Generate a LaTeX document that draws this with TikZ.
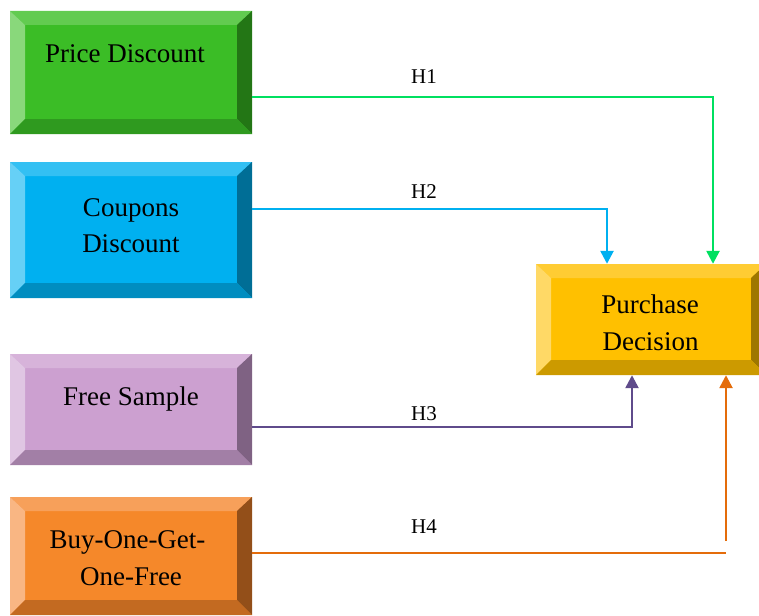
\documentclass[tikz,border=0pt]{standalone}
\usepackage{fontspec}
\setmainfont{Liberation Serif}
\usetikzlibrary{arrows.meta,calc}
\definecolor{gF}{HTML}{3BBD26}\definecolor{gT}{HTML}{62CB50}\definecolor{gL}{HTML}{89D87B}\definecolor{gR}{HTML}{237615}\definecolor{gB}{HTML}{2F9A1F}
\definecolor{bF}{HTML}{00B0F0}\definecolor{bT}{HTML}{33C0F3}\definecolor{bL}{HTML}{66D0F6}\definecolor{bR}{HTML}{006E96}\definecolor{bB}{HTML}{008DC0}
\definecolor{pF}{HTML}{CCA0D0}\definecolor{pT}{HTML}{D7B3DA}\definecolor{pL}{HTML}{E0C6E3}\definecolor{pR}{HTML}{7F6283}\definecolor{pB}{HTML}{A27FA6}
\definecolor{oF}{HTML}{F5882A}\definecolor{oT}{HTML}{F7A05A}\definecolor{oL}{HTML}{F9B683}\definecolor{oR}{HTML}{934F19}\definecolor{oB}{HTML}{C36A21}
\definecolor{yF}{HTML}{FFC000}\definecolor{yT}{HTML}{FFCC33}\definecolor{yL}{HTML}{FFD966}\definecolor{yR}{HTML}{9E7700}\definecolor{yB}{HTML}{CC9A00}
\definecolor{hA}{HTML}{00E060}\definecolor{hB}{HTML}{00B0F0}\definecolor{hC}{HTML}{5F4B8B}\definecolor{hD}{HTML}{E46C0A}
\tikzset{
  bevel/.style n args={5}{fill=#1, draw=none, inner sep=0pt, path picture={
    \def\bb{path picture bounding box}
    \fill[#2] (\bb.north west) -- (\bb.north east) -- ([xshift=-15pt,yshift=-14pt]\bb.north east) -- ([xshift=15pt,yshift=-14pt]\bb.north west) -- cycle;
    \fill[#3] (\bb.north west) -- ([xshift=15pt,yshift=-14pt]\bb.north west) -- ([xshift=15pt,yshift=15pt]\bb.south west) -- (\bb.south west) -- cycle;
    \fill[#4] (\bb.north east) -- (\bb.south east) -- ([xshift=-15pt,yshift=15pt]\bb.south east) -- ([xshift=-15pt,yshift=-14pt]\bb.north east) -- cycle;
    \fill[#5] (\bb.south west) -- (\bb.south east) -- ([xshift=-15pt,yshift=15pt]\bb.south east) -- ([xshift=15pt,yshift=15pt]\bb.south west) -- cycle;
  }},
  boxtext/.style={anchor=base, inner sep=0pt, font=\fontsize{27}{36}\selectfont, text=black},
  hlabel/.style={anchor=base, inner sep=0pt, font=\fontsize{21}{24}\selectfont, text=black},
  conn/.style={line width=2.5pt, -{Triangle[width=13pt,length=13pt]}},
}
\begin{document}
\begin{tikzpicture}[x=1pt,y=-1pt]
\useasboundingbox (0,0) rectangle (759,615);
% boxes
\node[bevel={gF}{gT}{gL}{gR}{gB}, minimum width=242pt, minimum height=123pt] (pr) at (131,72.5) {};
\node[bevel={bF}{bT}{bL}{bR}{bB}, minimum width=242pt, minimum height=136pt] (co) at (131,230) {};
\node[bevel={pF}{pT}{pL}{pR}{pB}, minimum width=242pt, minimum height=111pt] (fs) at (131,409.5) {};
\node[bevel={oF}{oT}{oL}{oR}{oB}, minimum width=242pt, minimum height=118pt] (bo) at (131,556) {};
\node[bevel={yF}{yT}{yL}{yR}{yB}, minimum width=230pt, minimum height=111pt] (pu) at (651,319.5) {};
% texts
\node[boxtext] (prT) at (125,62.7) {Price Discount};
\node[boxtext] (coT1) at (131,216) {Coupons};
\node[boxtext] (coT2) at (131,252) {Discount};
\node[boxtext] (fsT) at (131,405) {Free Sample};
\node[boxtext] (boT1) at (127.5,548.3) {Buy-One-Get-};
\node[boxtext] (boT2) at (131,585) {One-Free};
\node[boxtext] (puT1) at (650,313.3) {Purchase};
\node[boxtext] (puT2) at (650.5,350) {Decision};
% connectors
\draw[conn, draw=hA] (pr.east |- 0,97) -| (pu.north -| 713,0);
\draw[conn, draw=hB] (co.east |- 0,209) -| (pu.north -| 607,0);
\draw[conn, draw=hC] (fs.east |- 0,427) -| (pu.south -| 632,0);
\coordinate (h4end) at (726,553);
\coordinate (h4start) at (726,541);
\draw[line width=2.5pt, draw=hD] (bo.east |- 0,553) -- (h4end);
\draw[conn, draw=hD] (h4start) -- (pu.south -| 726,0);
% labels
\node[hlabel] (l1) at (424,84) {H1};
\node[hlabel] (l2) at (424,198.3) {H2};
\node[hlabel] (l3) at (424,420) {H3};
\node[hlabel] (l4) at (424,533.3) {H4};
\end{tikzpicture}
\end{document}
